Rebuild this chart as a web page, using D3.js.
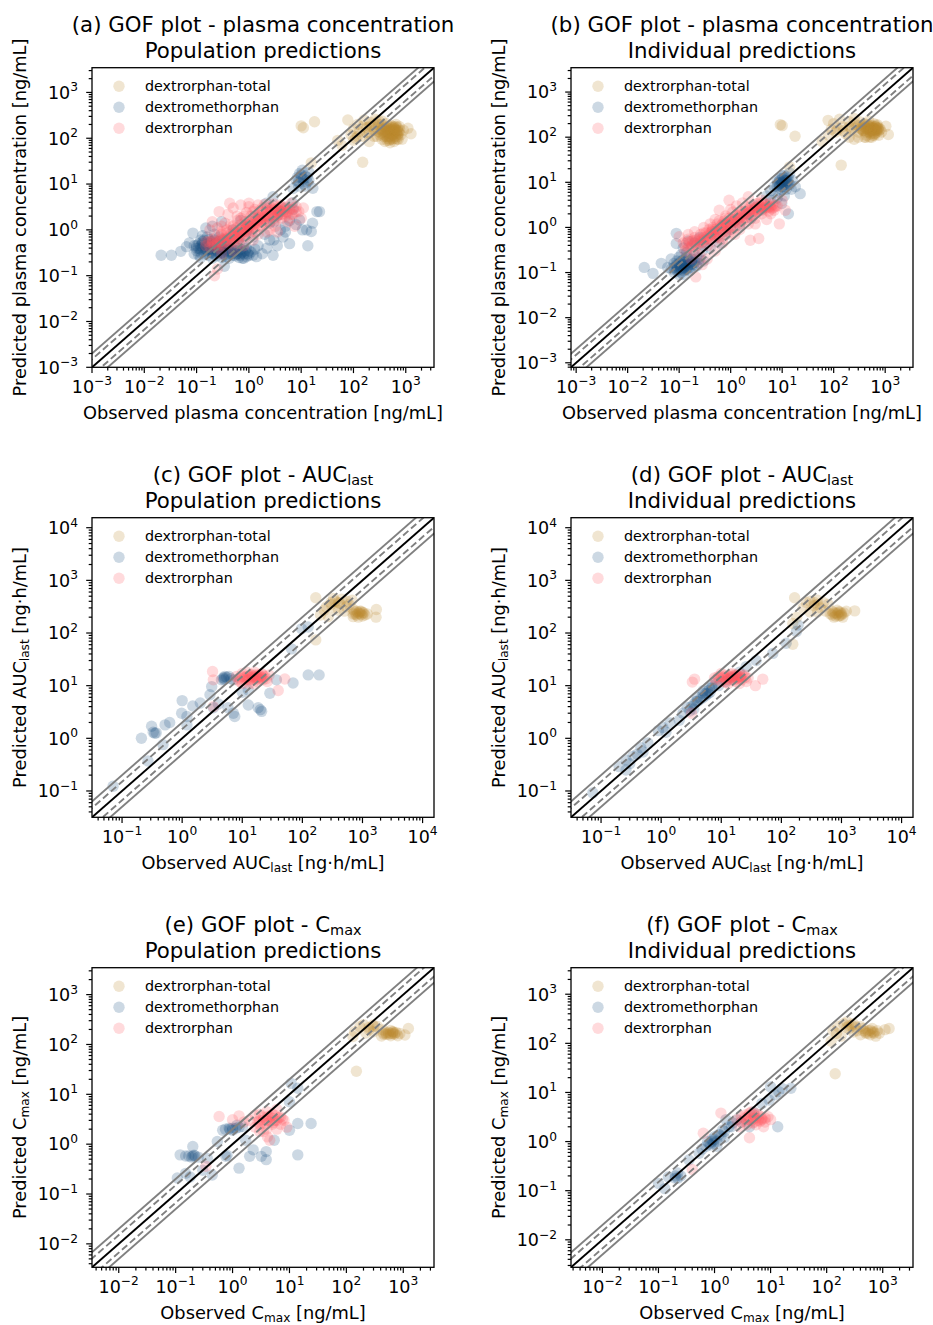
<!DOCTYPE html>
<meta charset="utf-8">
<style>
body { margin: 0; background: #fff; }
text { font-family: "DejaVu Sans", sans-serif; fill: #000; }
</style>
<body>
<script src="https://d3js.org/d3.v7.min.js"></script>
<script>

var width = 933,
    height = 1325;

// ---- data: [observed, predicted] ----
var seriesNames = ["dextrorphan-total", "dextromethorphan", "dextrorphan"];

// (a) plasma concentration, population predictions
var aTotal = [[10,186],[11,170],[18,230],[15.6,29],[150,30],[1260,125],[1100,165],[78,250],
  [60,70],[50,90],[90,120],[100,160],[110,100],[120,200],[130,140],[150,110],[160,250],[180,170],
  [200,130],[210,220],[230,180],[250,150],[260,260],[280,110],[300,200],[320,160],[350,240],[380,180],
  [400,130],[420,210],[450,170],[480,90],[500,150],[520,190],[550,120],[580,180],[600,85],[620,160],
  [650,200],[680,95],[700,150],[750,180],[800,120],[400,85],[450,100],[500,80],[350,95],[300,140],
  [250,110],[700,110],[550,170],[600,130],[200,85],[150,180],[100,90],[900,150],[850,95],
  [320,120],[350,150],[380,110],[420,170],[450,130],[480,180],[500,110],[520,140],[560,95],[580,150],
  [620,110],[640,180],[660,130],[700,170],[720,95],[380,140],[440,90],[600,170],[530,100],[470,150],
  [250,200],[200,180],[180,130],[120,110],[300,240],[350,200],
  [330,130],[360,160],[390,120],[410,150],[440,140],[460,110],[490,160],[510,130],[540,150],[570,120],
  [590,160],[610,140],[630,100],[660,150],[690,120],[710,140],[740,130],[770,150],[420,110],[500,95]];
var aDXM = [[0.021,0.28],[0.033,0.28],[0.05,0.34],[0.064,0.43],[0.085,0.85],[0.073,0.52],[0.1,0.4],
  [0.15,1.1],[0.2,0.31],[0.34,0.16],[0.37,0.26],[0.09,0.3],[0.12,0.25],
  [0.12,0.45],[0.15,0.38],[0.18,0.5],[0.2,0.35],[0.22,0.6],[0.25,0.42],[0.28,0.3],[0.3,0.5],[0.33,0.38],
  [0.35,0.28],[0.4,0.45],[0.45,0.33],[0.5,0.55],[0.55,0.27],[0.6,0.4],[0.7,0.3],[0.8,0.5],[0.9,0.26],
  [0.14,0.3],[0.17,0.62],[0.24,0.27],[0.27,0.7],[0.38,0.6],[0.42,0.24],[0.65,0.65],[0.75,0.24],[1.0,0.35],
  [1.2,0.28],[1.5,0.45],[0.13,0.55],
  [0.2,1.2],[0.3,1.5],[0.5,1.0],[0.7,1.6],[1.0,1.2],[1.3,2.0],[2.0,0.8],[2.5,1.4],[3.0,0.6],[3.5,2.0],
  [4,1.0],[5,3],[2.9,5.3],[2.15,3.8],[6.9,3.9],[1.2,0.7],[0.9,0.9],
  [2.9,0.28],[1.4,0.26],[3.5,0.45],[4.5,0.7],[6,0.5],[5,0.9],
  [13.4,0.45],[22.4,2.5],[16.5,1.4],[10.6,1.0],[9.3,1.65],[15.6,0.92],[12.7,1.0],[8,1.3],[20,2.5],
  [8,12],[9.3,17],[10,14],[11,10],[12,15],[13,11],[14,18],[16.7,8.1],[9,9],[7,8],[10.5,20],
  [0.1,0.35],[0.11,0.5],[0.12,0.32],[0.13,0.42],[0.14,0.6],[0.15,0.33],[0.16,0.45],[0.17,0.28],
  [0.18,0.38],[0.19,0.55],[0.2,0.42],[0.21,0.3],[0.23,0.5],[0.25,0.35],[0.26,0.55],[0.28,0.42],
  [0.3,0.32],[0.32,0.6],[0.34,0.45],[0.36,0.35],[0.4,0.3],[0.45,0.4],[0.5,0.28],[0.55,0.35],[0.6,0.3],
  [0.65,0.25],[0.7,0.38],[0.8,0.3],[0.9,0.4],[1.0,0.28],[1.1,0.33],[1.3,0.38],[0.11,0.28],[0.16,0.7],
  [0.22,0.8],[0.13,0.75],[0.2,0.24],[0.3,0.25],[0.8,0.24],[1.8,0.3],[2.2,0.4],[9,11],[10,16],[11,13],
  [12,9],[8.5,14],[13,14],[14,12],[3,1.5],[4,2.5],[6,1.6],[5,1.2],[7,2.8],[2.5,0.6],
  [0.1,0.45],[0.12,0.38],[0.13,0.5],[0.15,0.42],[0.16,0.35],[0.18,0.45],[0.19,0.32],[0.21,0.48],
  [0.23,0.38],[0.24,0.45],[0.26,0.32],[0.27,0.48],[0.29,0.38],[0.31,0.42],[0.33,0.3],[0.35,0.5],
  [0.38,0.38],[0.42,0.35],[0.47,0.3],[0.52,0.33],[0.58,0.3],[0.62,0.35],[0.68,0.28],[0.75,0.33],
  [0.85,0.35],[0.95,0.3],[0.12,0.6],[0.17,0.52],[0.09,0.45],[0.11,0.4]];
var aDXO = [[0.15,0.45],[0.17,0.55],[0.2,0.5],[0.22,0.65],[0.25,0.45],[0.28,0.6],[0.3,0.5],[0.35,0.7],
  [0.4,0.55],[0.45,0.8],[0.5,0.6],[0.55,0.9],[0.6,0.7],[0.7,1.0],[0.8,0.8],[0.9,1.2],[1.0,1.0],[1.1,1.4],
  [1.3,1.1],[1.5,1.6],[1.7,1.3],[2.0,2.0],[2.3,1.5],[2.6,2.4],[3.0,1.8],[3.5,2.8],[4.0,2.2],[4.5,3.0],
  [5,2.0],[6,2.8],[7,2.2],[8,3.2],[5.5,1.5],[3.2,1.2],[2.2,0.9],
  [0.27,2.5],[0.43,3.8],[1.0,3.8],[0.3,1.2],[0.4,2.2],[0.5,3.0],[0.7,3.5],[1.0,3.2],[1.5,3.5],
  [2.0,3.6],[3,3.7],[4,3.5],[0.8,2.0],[1.2,2.5],[0.6,1.6],[0.35,1.4],[0.2,1.5],[0.18,1.0],
  [0.22,0.1],[0.25,0.14],[0.3,0.3],[0.5,0.35],[0.8,0.45],[1.2,0.6],[1.5,0.8],[0.65,0.5],[2.5,1.0],
  [9,2.5],[10,1.8],[6.5,3.8],[7.5,1.2],[11,3],[3.5,0.9],
  [0.2,0.6],[0.22,0.45],[0.25,0.55],[0.27,0.4],[0.3,0.65],[0.32,0.45],[0.35,0.55],[0.38,0.85],[0.4,0.65],
  [0.42,0.5],[0.45,0.6],[0.48,1.0],[0.5,0.75],[0.52,0.55],[0.55,0.7],[0.58,1.1],[0.6,0.9],[0.62,0.6],
  [0.65,0.8],[0.7,1.3],[0.72,0.75],[0.75,0.95],[0.8,1.1],[0.85,1.5],[0.85,0.7],[0.9,0.95],[0.95,1.3],
  [1.0,0.8],[1.05,1.6],[1.1,1.1],[1.2,1.3],[1.25,1.8],[1.3,0.9],[1.4,1.4],[1.5,2.1],[1.6,1.2],[1.7,1.7],
  [1.8,2.4],[1.9,1.4],[2.0,1.7],[2.2,2.6],[2.3,1.9],[2.5,1.5],[2.7,2.2],[2.8,3.0],[3.0,2.4],[3.3,1.6],
  [3.5,2.1],[3.8,2.6],[4.2,1.8],[4.5,2.5],[5,3.2],[5.5,2.4],[6,1.8],[4,3.2],[3.2,3.2],[2.5,3.2],[1.8,3.0],
  [1.3,2.8],[0.9,2.4],[0.6,2.0],[0.45,1.3],[0.3,0.9],[0.25,1.1],[7,3],[8,2.5],[6.5,2.2],[0.15,0.55],
  [0.18,0.42],
  [0.2,0.55],[0.24,0.5],[0.28,0.55],[0.33,0.6],[0.37,0.65],[0.42,0.6],[0.47,0.75],[0.53,0.7],[0.57,0.8],
  [0.63,0.9],[0.68,0.85],[0.74,1.1],[0.78,0.9],[0.83,1.0],[0.88,1.2],[0.93,1.1],[0.98,1.3],[1.05,1.2],
  [1.15,1.5],[1.25,1.3],[1.35,1.6],[1.45,1.5],[1.55,1.9],[1.65,1.6],[1.75,2.0],[1.85,1.8],[2.1,2.2],
  [2.4,2.0],[2.6,2.7],[2.9,2.1],[3.1,2.8],[3.4,2.5],[3.7,2.2],[4.1,2.7],[4.4,2.2],[4.8,2.8],[5.2,2.5],
  [0.5,1.2],[0.7,1.8],[1.1,2.0],[1.6,2.6],[2.2,3.0],[0.38,1.0],[0.3,0.8]];

// (b) plasma concentration, individual predictions
var bTotal = [[9.2,190],[10,180],[17.8,105],[140,24],[1150,115],[1030,175],[78,236],[14,22],
  [60,80],[80,110],[90,150],[100,200],[110,130],[130,250],[150,170],[170,120],[200,220],[220,150],
  [250,260],[270,190],[300,130],[320,220],[350,170],[380,140],[400,200],[430,110],[450,160],[480,230],
  [500,130],[520,180],[550,100],[580,160],[600,200],[630,120],[650,170],[680,140],[700,190],[750,110],
  [800,150],[400,100],[300,100],[250,90],[550,140],[200,100],[850,130],
  [350,150],[400,170],[420,130],[450,190],[480,150],[500,170],[520,120],[550,180],[580,140],[600,160],
  [620,110],[650,150],[680,180],[700,130],[720,160],[750,140],[500,100],[580,110],[420,100],[380,190],
  [300,180],[250,160],[200,170],[150,140],[120,150],
  [340,160],[370,140],[410,160],[440,150],[470,130],[490,170],[530,150],[560,160],[590,130],[610,150],
  [640,170],[670,140],[690,160],[730,150],[760,160],[520,140],[460,170],[600,120]];
var bDXM = [[0.021,0.13],[0.031,0.096],[0.045,0.16],[0.06,0.13],[0.088,0.74],[0.088,0.44],[0.07,0.2],
  [0.08,0.1],[0.09,0.15],[0.1,0.12],[0.11,0.18],[0.12,0.09],[0.13,0.14],[0.15,0.2],[0.16,0.11],
  [0.18,0.16],[0.2,0.25],[0.22,0.14],[0.25,0.2],[0.28,0.3],[0.1,0.22],[0.14,0.28],[0.3,0.18],[0.12,0.35],
  [0.3,0.4],[0.4,0.35],[0.5,0.6],[0.6,0.45],[0.8,0.7],[1.0,0.9],[1.2,1.4],[1.5,1.1],[2,2],[2.5,1.6],
  [3,3],[4,2.5],[5,5],[6,4],[0.2,0.45],[0.15,0.5],[0.25,0.6],
  [7,8],[8,6],[9,11],[9.8,10.2],[10,14],[11,8],[12,12],[13,9],[14,16],[15,7],[22.4,5.6],[13.2,2.0],
  [9.8,3.4],[8,4.5],[6,6.5],[11,5],[16,11],[18,8],
  [0.07,0.12],[0.08,0.16],[0.09,0.11],[0.1,0.14],[0.1,0.09],[0.11,0.12],[0.12,0.15],[0.12,0.11],
  [0.13,0.17],[0.14,0.12],[0.15,0.14],[0.16,0.18],[0.17,0.13],[0.18,0.2],[0.2,0.17],[0.22,0.21],
  [0.09,0.18],[0.14,0.22],[0.11,0.25],[0.24,0.16],[8,8],[9,9],[10,10],[11,11],[12,10],[10,8],[9,12],
  [13,13],[8,10],[11,14],[12,7],[14,9],
  [0.08,0.13],[0.09,0.12],[0.1,0.16],[0.11,0.14],[0.12,0.13],[0.13,0.12],[0.13,0.15],[0.14,0.16],
  [0.15,0.12],[0.16,0.15],[0.17,0.17],[0.19,0.15],[0.11,0.1],[0.09,0.14],[0.12,0.19],[9,8.5],[10,9.5],
  [11,9],[12,11],[10,12],[8.5,9.5],[13,11],[9.5,7]];
var bDXO = [[0.1,0.62],[0.21,0.08],[0.12,0.45],[0.15,0.35],[0.15,0.7],[0.18,0.5],[0.2,0.3],[0.2,0.8],
  [0.25,0.45],[0.25,0.25],[0.3,0.6],[0.3,1.0],[0.35,0.4],[0.4,0.75],[0.4,1.2],[0.45,0.5],[0.5,0.9],
  [0.5,1.5],[0.6,2.4],[0.6,0.6],[0.7,1.2],[0.8,0.8],[0.8,1.8],[0.93,4.0],[1.0,1.0],[1.0,2.5],[1.2,1.5],
  [1.3,3.0],[1.5,1.2],[1.5,2.0],[1.7,3.5],[2.0,1.5],[2.2,4.8],[2.2,2.5],[2.4,0.52],[2.6,1.8],[3,2.8],
  [3,1.2],[3.5,0.57],[3.5,3.5],[4,2],[4,4],[5,2.8],[5,1.5],[6,3.5],[6,2.0],[7,2.8],[8.8,1.2],[8,3],
  [11.5,2.4],[0.35,0.2],[0.5,0.3],[0.28,0.15],[1.2,0.7],[0.7,0.45],[10,4],[0.13,0.3],[0.17,0.2],
  [0.13,0.4],[0.15,0.55],[0.17,0.35],[0.19,0.45],[0.2,0.6],[0.22,0.4],[0.24,0.55],[0.26,0.7],[0.28,0.45],
  [0.3,0.5],[0.33,0.75],[0.35,0.55],[0.38,0.9],[0.4,0.55],[0.42,0.7],[0.45,1.0],[0.48,0.65],[0.5,0.8],
  [0.55,1.2],[0.55,0.65],[0.6,0.9],[0.65,1.1],[0.7,0.8],[0.75,1.4],[0.8,1.0],[0.85,1.2],[0.9,0.85],
  [0.95,1.6],[1.0,1.2],[1.1,1.4],[1.2,1.0],[1.3,1.8],[1.4,1.3],[1.5,1.6],[1.6,2.3],[1.7,1.4],[1.8,1.9],
  [2.0,2.8],[2.1,1.7],[2.3,2.2],[2.5,3.0],[2.7,2.0],[2.9,2.5],[3.2,3.3],[3.4,2.2],[3.7,2.9],[4,2.4],
  [4.3,3.5],[4.6,2.6],[5,3.2],[5.5,2.3],[6,2.8],[6.5,3.2],[7,2.4],[7.5,3.0],[3,1.6],[2.2,1.2],[1.5,0.9],
  [1.0,0.7],[0.7,0.55],[1.1,2.2],[0.8,1.6],[0.6,1.4],
  [0.14,0.45],[0.16,0.48],[0.18,0.4],[0.21,0.52],[0.23,0.48],[0.26,0.5],[0.29,0.58],[0.32,0.55],
  [0.36,0.65],[0.39,0.62],[0.43,0.8],[0.46,0.72],[0.52,0.85],[0.57,0.78],[0.62,1.0],[0.67,0.95],
  [0.72,1.1],[0.78,1.2],[0.83,1.1],[0.88,1.3],[0.97,1.3],[1.05,1.5],[1.15,1.3],[1.25,1.6],[1.35,1.5],
  [1.45,1.8],[1.55,1.7],[1.75,2.0],[1.9,2.2],[2.15,2.1],[2.4,2.4],[2.6,2.6],[2.8,2.3],[3.1,2.7],
  [3.3,2.5],[3.6,2.6],[3.9,2.9],[4.2,2.7],[4.5,3.0],[4.8,2.9],[5.3,2.7],[5.8,3.0],[6.3,2.6],[0.3,0.75],
  [0.45,0.9]];

// (c) AUClast, population predictions
var cTotal = [[167,468],[167,74],[1700,280],[1680,200],[250,315],[330,455],[420,365],[670,420],[700,205],
  [900,237],[1100,220],[540,315],[270,205],[200,220],[300,380],[350,300],[450,440],[500,260],[600,350],
  [750,230],[800,260],[850,200],[950,260],[1000,210],[1050,240],[400,270],[550,400],[230,270],[700,280],
  [1200,230],[700,230],[750,250],[800,220],[850,240],[900,260],[950,225],[1000,245],[300,350],[350,400],
  [400,380]];
var cDXM = [[0.071,0.123],[0.21,1.0],[0.31,1.7],[0.37,1.27],[0.52,1.8],[0.62,2.0],[0.48,0.76],[0.27,0.37],
  [1.0,5.2],[1.5,4.1],[1.2,2.6],[1.2,1.8],[2.9,6.7],[5.1,15],[4.5,12.9],[7.1,12.9],[3.3,3.8],[7.5,2.6],
  [12.6,4.3],[18.4,3.8],[21,3.25],[28.8,7.2],[37,12.9],[70,11.2],[125,16],[190,16],[66,50],[97,120],
  [125,130],[7.1,3.0],[12.6,8.3],[5.8,3.8],[3.1,9.6],[2.0,4.7],[0.98,3.0],[0.33,1.3],[5,14],[6,15],
  [4,4.5],[10,7.5],[20,3.5],[0.35,1.25],[4.8,14],[5.5,14.5],[6.5,13.5],[5,13]];
var cDXO = [[3.2,18.6],[3.3,12.9],[3.3,4.0],[51,13.4],[39.6,8.1],[8,15],[9,12],[10,17],[11,13],[12,15],
  [13,11],[14,16],[15,13],[16,18],[17,14],[18,12],[19,16],[20,14],[22,13],[24,15],[26,12],[28,16],
  [12,18],[10,11],[15,11],[21,17],[8.5,13],[25,13.5],
  [9,14],[10,15],[11,14.5],[12,13],[13,15],[14,14],[15,15],[16,14],[17,16],[18,14],[19,13],[20,15],
  [21,14],[22,16],[15,16],[13,13],[18,15]];

// (d) AUClast, individual predictions
var dTotal = [[166,468],[155,61],[1660,263],[230,300],[260,380],[300,400],[350,330],[400,420],[450,300],
  [500,380],[550,260],[600,350],[650,230],[700,260],[750,200],[800,240],[850,270],[900,210],[950,250],
  [1000,220],[1050,200],[1100,240],[1200,260],[300,250],[400,250],[180,200],[155,152],
  [700,220],[750,240],[800,210],[850,230],[900,250],[950,215],[1000,235],[350,380],[400,350]];
var dDXM = [[0.073,0.092],[0.2,0.29],[0.26,0.39],[0.34,0.46],[0.46,0.66],[0.6,0.82],[1.07,1.6],[1.4,1.95],
  [2.3,3.0],[3.2,4.0],[3.8,5.0],[4.9,7.2],[6.4,9.0],[8.2,11.2],[26,23],[38,30],[72,41],[120,64],
  [178,107],[190,142],[0.26,0.25],[0.3,0.33],[0.4,0.5],[0.5,0.55],[1.2,1.3],[2,2.2],[3,3.3],[4.5,5.5],
  [5.5,6.5],[5,8],[6,7],[7,9],[9,10],[12,12],[15,14],[20,18],[3.5,3.6],[4,6],[2.7,3.9],[0.9,1.4],
  [4,5],[5,6],[5.5,7],[6,8],[6.5,7.5],[7,10],[3.5,4.5]];
var dDXO = [[3.3,11.7],[3.6,13.3],[37,10],[49,13.3],[8,13],[9,15],[10,12],[11,16],[12,14],[13,11],
  [14,15],[15,17],[16,13],[17,12],[18,16],[19,14],[20,11],[21,15],[22,13],[24,16],[26,12],[28,14],
  [10,17],[12,11.5],[7.7,14],[25,14.5],[3.2,3.0],
  [9,14],[10,15],[11,14.5],[12,13],[13,15],[14,14],[15,15],[16,14],[17,16],[18,14],[19,13],[20,15],
  [21,14],[22,16],[15,16],[13,13],[18,15]];

// (e) Cmax, population predictions
var eTotal = [[150,29],[130,144],[172,228],[295,245],[445,195],[665,178],[870,166],[1230,209],[1070,155],
  [415,148],[250,200],[200,250],[350,230],[500,170],[550,160],[600,190],[700,160],[750,175],[800,150],
  [600,150],[450,160],[300,180],[140,180],[220,170],[650,165],
  [450,170],[500,160],[550,175],[600,165],[650,180],[700,170],[250,220],[300,230]];
var eDXM = [[0.107,0.21],[0.15,0.26],[0.12,0.61],[0.2,0.58],[0.15,0.58],[0.22,0.58],[0.2,0.9],[0.36,0.52],
  [0.44,0.24],[0.54,1.13],[0.76,0.57],[0.67,1.9],[0.87,2.1],[1.15,2.1],[1.5,2.26],[1.7,1.2],[2.3,0.77],
  [2.0,0.57],[3.2,0.57],[3.9,0.49],[3.9,0.71],[1.3,0.33],[5.4,1.2],[10,1.9],[14,2.6],[24,2.6],[14,0.61],
  [10.7,16.6],[14,13.2],[10,7.1],[0.8,0.6],[0.25,0.55],[1.0,1.9],[1.2,2.4],[0.75,2.0],[0.18,0.22],
  [0.3,0.3],[0.17,0.58],[0.19,0.55],[0.21,0.6],[0.9,2.0],[1.0,2.1],[1.3,2.2]];
var eDXO = [[0.58,3.6],[1.0,3.1],[1.3,3.7],[0.34,0.36],[4.1,1.4],[2,3],[2.5,2.2],[3,4],[3,2.5],[3.5,3],
  [4,2],[4,4.5],[4.5,3.5],[5,2.5],[5,4],[5.5,3],[6,2],[6,5],[7,3.5],[7,2.5],[8,3],[9,2.2],[4.5,1.2],
  [2.5,3.8],[3.5,1.8],[1.6,2.8],[3,1.8],
  [3,3],[3.5,3.5],[4,3],[4.5,2.8],[5,3.3],[5.5,3.8],[6,3],[6.5,3.4],[3.8,2.6],[4.2,3.6],[5.2,2.7],
  [7.5,3.2],[2.8,2.8]];

// (f) Cmax, individual predictions
var fTotal = [[142,24],[120,110],[130,180],[160,220],[200,250],[230,275],[250,200],[280,230],[300,170],
  [330,215],[350,180],[400,150],[450,200],[500,160],[550,180],[600,150],[650,200],[700,170],[750,140],
  [800,180],[870,160],[1100,190],[1300,200],[180,140],[150,160],[400,220],
  [450,180],[500,170],[550,160],[600,185],[650,170],[700,160],[250,230],[300,250],[230,210]];
var fDXM = [[0.1,0.14],[0.15,0.19],[0.22,0.23],[0.13,0.11],[0.35,0.42],[0.53,0.58],[0.7,0.79],[0.96,0.93],
  [1.0,1.26],[1.4,1.73],[2.1,2.4],[1.6,2.8],[13.4,2.0],[9.4,7.0],[14,10.4],[23,12.2],[10,13],[4.2,2.0],
  [0.2,0.18],[0.25,0.2],[0.8,0.9],[0.9,1.1],[1.1,0.8],[1.2,1.4],[0.75,1.0],[1.8,2.0],[2.5,2.8],[3,2.5],
  [5,4],[7,6],[12,9],[16,12],[0.6,0.7],[1.5,1.2],
  [0.9,1.0],[1.0,1.1],[1.1,1.0],[1.3,1.3],[0.85,0.85],[0.2,0.2],[0.22,0.18],[1.5,1.6],[2,2]];
var fDXO = [[1.3,3.8],[0.63,1.48],[4.2,1.2],[0.4,0.27],[3,2.5],[3.5,3.5],[4,2.8],[4.5,4],[5,3],[5.5,2.2],
  [6,3.5],[6.5,2.6],[7,3],[8,2.5],[9,3.2],[3,3.2],[3.8,2.2],[4.8,2.4],[2.5,2.8],[5.2,3.8],[7.5,2.0],
  [10,2.8],[2.8,2],
  [3.5,3],[4,3.3],[4.5,2.7],[5,3.5],[5.5,3],[6,2.7],[6.5,3.3],[7,2.8],[4.2,3.8],[5.2,2.5],[3.8,2.6],[8,3]];

// axis extents (log10 of lower / upper limit), same for x and y
var extents = [[-3, 3.54], [-3.1, 3.54], [-1.5, 4.19], [-1.5, 4.19], [-2.47, 3.54], [-2.56, 3.54]];

var titles = [
  ["(a) GOF plot - plasma concentration", "Population predictions"],
  ["(b) GOF plot - plasma concentration", "Individual predictions"],
  ["(c) GOF plot - AUC_{last}", "Population predictions"],
  ["(d) GOF plot - AUC_{last}", "Individual predictions"],
  ["(e) GOF plot - C_{max}", "Population predictions"],
  ["(f) GOF plot - C_{max}", "Individual predictions"]
];
var xLabels = ["Observed plasma concentration [ng/mL]", "Observed AUC_{last} [ng\u00b7h/mL]", "Observed C_{max} [ng/mL]"];
var yLabels = ["Predicted plasma concentration [ng/mL]", "Predicted AUC_{last} [ng\u00b7h/mL]", "Predicted C_{max} [ng/mL]"];

var panelData = [
  [aTotal, aDXM, aDXO], [bTotal, bDXM, bDXO],
  [cTotal, cDXM, cDXO], [dTotal, dDXM, dDXO],
  [eTotal, eDXM, eDXO], [fTotal, fDXM, fDXO]
];

var foldLines = [0.5, 1/1.5, 1, 1.5, 2];

// ---- layout / style ----
var colLeft = [92, 571],
    rowTop = [67.7, 517.7, 967.7],
    boxW = 342,
    boxH = 299.6;
var colors = ["#bb882c", "#164e7f", "#ff5561"];
var ptAlpha = 0.22, ptR = 5.7;
var fsTitle = 21.3, fsLabel = 17.8, fsTick = 17.5, fsLegend = 14.3;

var svg = d3.select("body").append("svg")
    .attr("width", width)
    .attr("height", height);

// writes "abc_{sub}def" into a text element with lowered small subscript
function richText(sel, str, fs) {
  var parts = str.split(/_\{([^}]*)\}/);
  var shift = 0;
  parts.forEach(function(p, i) {
    if (p === "") return;
    var t = sel.append("tspan").text(p);
    if (i % 2 == 1) {
      t.attr("font-size", fs * 0.68).attr("dy", fs * 0.14 - shift);
      shift = fs * 0.14;
    } else {
      t.attr("dy", -shift);
      shift = 0;
    }
  });
}

function powLabel(sel, k, fs) {
  sel.append("tspan").text("10");
  sel.append("tspan")
    .attr("font-size", fs * 0.7)
    .attr("dy", -fs * 0.42)
    .text(k < 0 ? "\u2212" + (-k) : "" + k);
}

panelData.forEach(function(series, p) {
  var col = p % 2, row = Math.floor(p / 2);
  var x0 = colLeft[col], y0 = rowTop[row];
  var lo = Math.pow(10, extents[p][0]), hi = Math.pow(10, extents[p][1]);

  var x = d3.scaleLog().domain([lo, hi]).range([0, boxW]);
  var y = d3.scaleLog().domain([lo, hi]).range([boxH, 0]);

  var g = svg.append("g").attr("transform", "translate(" + x0 + "," + y0 + ")");

  g.append("clipPath").attr("id", "clip" + p)
    .append("rect").attr("width", boxW).attr("height", boxH);

  var plot = g.append("g").attr("clip-path", "url(#clip" + p + ")");

  series.forEach(function(pts, s) {
    plot.append("g").selectAll("circle")
      .data(pts)
      .enter().append("circle")
        .attr("cx", function(d) { return x(d[0]); })
        .attr("cy", function(d) { return y(d[1]); })
        .attr("r", ptR)
        .attr("fill", colors[s])
        .attr("fill-opacity", ptAlpha);
  });

  // fold lines: grey 2-fold, dashed 1.5-fold, black identity
  var order = [0, 4, 1, 3, 2];
  order.forEach(function(i) {
    var f = foldLines[i];
    plot.append("line")
      .attr("x1", x(lo / 10)).attr("y1", y(lo / 10 * f))
      .attr("x2", x(hi * 10)).attr("y2", y(hi * 10 * f))
      .attr("stroke", f == 1 ? "#000" : "#808080")
      .attr("stroke-width", 1.9)
      .attr("stroke-dasharray", (f == 1.5 || f == 1/1.5) ? "7,3.5" : null);
  });

  // ticks
  var majors = [], minors = [];
  for (var k = Math.floor(extents[p][0]); k <= Math.ceil(extents[p][1]); k++) {
    var v = Math.pow(10, k);
    if (v >= lo * 0.9999 && v <= hi) majors.push(k);
    for (var m = 2; m < 10; m++) {
      var mv = m * v;
      if (mv >= lo && mv <= hi) minors.push(mv);
    }
  }
  var axes = g.append("g").attr("stroke", "#000").attr("stroke-width", 1.2);
  minors.forEach(function(v) {
    axes.append("line").attr("x1", x(v)).attr("x2", x(v)).attr("y1", boxH).attr("y2", boxH + 3.3);
    axes.append("line").attr("y1", y(v)).attr("y2", y(v)).attr("x1", 0).attr("x2", -3.3);
  });
  majors.forEach(function(k) {
    var v = Math.pow(10, k);
    axes.append("line").attr("x1", x(v)).attr("x2", x(v)).attr("y1", boxH).attr("y2", boxH + 5.8);
    axes.append("line").attr("y1", y(v)).attr("y2", y(v)).attr("x1", 0).attr("x2", -5.8);
    var tx = g.append("text")
      .attr("x", x(v)).attr("y", boxH + 25.5)
      .attr("text-anchor", "middle")
      .attr("font-size", fsTick);
    powLabel(tx, k, fsTick);
    var ty = g.append("text")
      .attr("x", -14).attr("y", y(v) + 6.3)
      .attr("text-anchor", "end")
      .attr("font-size", fsTick);
    powLabel(ty, k, fsTick);
  });

  g.append("rect")
    .attr("width", boxW).attr("height", boxH)
    .attr("fill", "none").attr("stroke", "#000").attr("stroke-width", 1.3);

  // titles
  var t1 = g.append("text").attr("x", boxW / 2).attr("y", -36)
    .attr("text-anchor", "middle").attr("font-size", fsTitle);
  richText(t1, titles[p][0], fsTitle);
  g.append("text").attr("x", boxW / 2).attr("y", -10)
    .attr("text-anchor", "middle").attr("font-size", fsTitle)
    .text(titles[p][1]);

  // axis labels
  var xl = g.append("text").attr("x", boxW / 2).attr("y", boxH + 52)
    .attr("text-anchor", "middle").attr("font-size", fsLabel);
  richText(xl, xLabels[row], fsLabel);
  var yl = g.append("text")
    .attr("transform", "translate(-66," + (boxH / 2) + ") rotate(-90)")
    .attr("text-anchor", "middle").attr("font-size", fsLabel);
  richText(yl, yLabels[row], fsLabel);

  // legend
  var leg = g.append("g").selectAll("g")
    .data(seriesNames)
    .enter().append("g")
      .attr("transform", function(d, i) { return "translate(27," + (18.5 + i * 21) + ")"; });
  leg.append("circle").attr("r", ptR)
    .attr("fill", function(d, i) { return colors[i]; })
    .attr("fill-opacity", ptAlpha);
  leg.append("text").attr("x", 26).attr("dy", "0.36em")
    .attr("font-size", fsLegend)
    .text(function(d) { return d; });
});
</script>
</body>
